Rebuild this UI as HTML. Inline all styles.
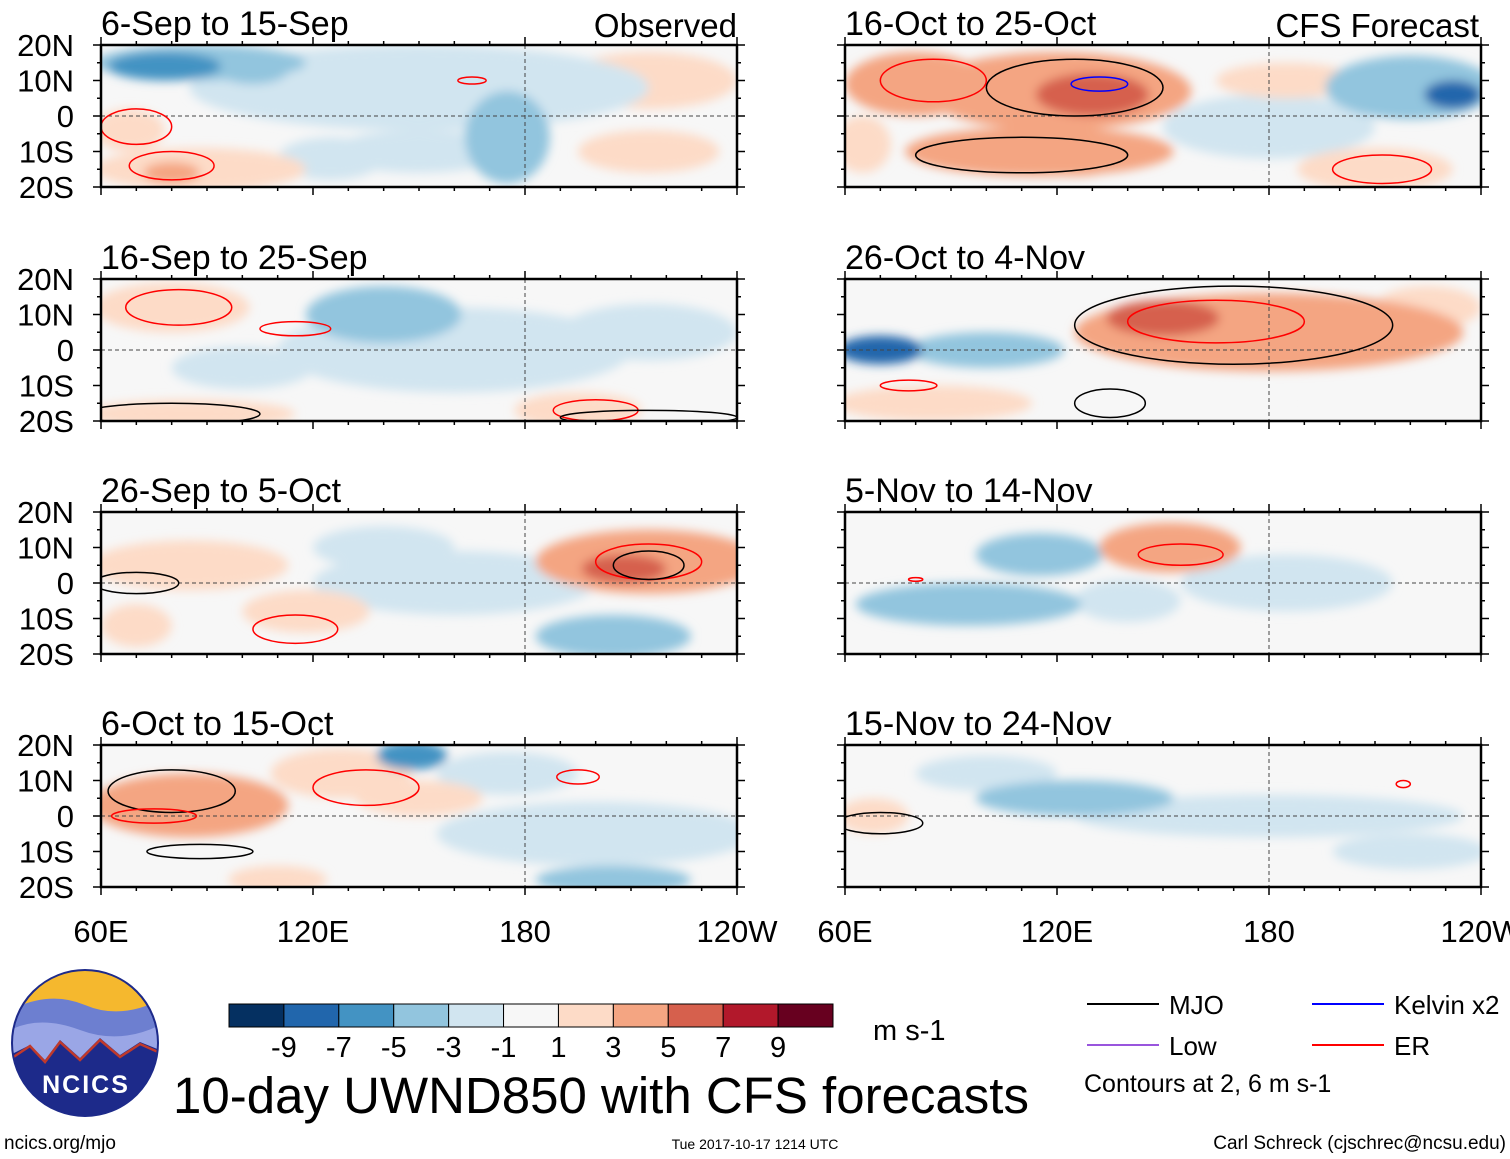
<!DOCTYPE html>
<html><head><meta charset="utf-8"><style>
body{margin:0;background:#fff;}
svg{display:block;font-family:"Liberation Sans",sans-serif;}
</style></head><body>
<svg id="fig" width="1510" height="1159" viewBox="0 0 1510 1159">
<defs>
<filter id="blur" x="-20%" y="-20%" width="140%" height="140%"><feGaussianBlur stdDeviation="5"/></filter>
</defs>
</svg>
<script>
// ---- data ----
const panelTitles=["6-Sep to 15-Sep","16-Oct to 25-Oct","16-Sep to 25-Sep","26-Oct to 4-Nov","26-Sep to 5-Oct","5-Nov to 14-Nov","6-Oct to 15-Oct","15-Nov to 24-Nov"];
const latTicks=["20N","10N","0","10S","20S"];
const lonTicks=["60E","120E","180","120W"];
const cbLevels=[-9,-7,-5,-3,-1,1,3,5,7,9];
const cbColors=["#053061","#2166ac","#4393c3","#92c5de","#d1e5f0","#f7f7f7","#fddbc7","#f4a582","#d6604d","#b2182b","#67001f"];
// anomaly blobs per panel: [lon, lat, value, lonRadius, latRadius]
const blobs=[
 [[150,8,-2,65,12],[175,-6,-3,12,13],[150,-10,-2,25,6],[88,15,-4,30,5],[78,14,-6,16,4],[103,13,-4,10,4],[68,-4,3,10,6],[88,-15,3,30,6],[80,-16,5,8,3],[155,5,1.5,15,5],[215,10,1.5,25,8],[215,-10,1.2,20,6],[125,-12,-2,15,6]],
 [[120,7,4,38,11],[130,6,7,16,6],[80,9,4,20,9],[115,-10,4,38,7],[125,-13,5,12,4],[220,8,-4,24,9],[232,6,-7,8,4],[180,-3,-2,30,9],[185,10,2,20,5],[210,-15,2,22,6],[65,-8,1.5,8,8]],
 [[140,10,-3,22,8],[150,8,-4,8,4],[80,12,3,22,7],[160,0,-1.5,50,12],[85,-18,2,30,4],[195,-17,2,18,5],[100,-5,-1.5,20,6],[215,5,-1.2,25,8]],
 [[180,5,4,55,11],[150,9,6,16,5],[70,0,-8,12,4],[100,0,-3,22,5],[85,-15,1.5,28,5],[160,-15,1,25,4],[225,12,1.5,15,6]],
 [[215,6,4,32,9],[208,4,6,12,4],[160,0,-2,40,9],[205,-15,-4,22,6],[118,-8,3,18,6],[85,5,2,28,7],[140,10,-1.5,20,6],[70,-12,1.5,10,6]],
 [[95,-6,-4,32,6],[115,8,-3,18,6],[152,10,4,20,7],[185,0,-1.5,30,8],[140,-5,-1.2,15,6]],
 [[85,3,4,28,9],[128,12,3,20,7],[148,17,-5,10,4],[200,-5,-2,45,9],[205,-18,-3,22,4],[110,-18,3,14,4],[150,5,1.5,18,5],[175,12,-1.2,20,6]],
 [[125,5,-3,28,5],[180,0,-1.5,55,6],[68,0,2,10,5],[220,-10,-1.2,22,5],[100,12,-1.2,20,5]]
];
// contours per panel: [lon, lat, lonRadius, latRadius, type] type 0=MJO 1=Kelvin 2=ER
const contours=[
 [[70,-3,10,5,2],[80,-14,12,4,2],[165,10,4,1,2]],
 [[85,10,15,6,2],[125,8,25,8,0],[110,-11,30,5,0],[212,-15,14,4,2],[132,9,8,2,1]],
 [[82,12,15,5,2],[115,6,10,2,2],[80,-18,25,3,0],[200,-17,12,3,2],[215,-19,25,2,0]],
 [[170,7,45,11,0],[165,8,25,6,2],[78,-10,8,1.5,2],[135,-15,10,4,0]],
 [[70,0,12,3,0],[215,6,15,5,2],[215,5,10,4,0],[115,-13,12,4,2]],
 [[155,8,12,3,2],[80,1,2,0.5,2]],
 [[80,7,18,6,0],[75,0,12,2,2],[88,-10,15,2,0],[135,8,15,5,2],[195,11,6,2,2]],
 [[70,-2,12,3,0],[218,9,2,1,2]]
];
// ---- drawing ----
const NS="http://www.w3.org/2000/svg";
const svg=document.getElementById('fig');
function mk(tag,attrs,parent){const e=document.createElementNS(NS,tag);for(const k in attrs)e.setAttribute(k,attrs[k]);(parent||svg).appendChild(e);return e;}
function colorFor(v){let i=0;while(i<cbLevels.length&&v>cbLevels[i])i++;return cbColors[i];}
const colX=[101,845],rowY=[45,279,512,745],PW=636,PH=142;
const ctype=["#000","#0000ff","#ff0000"];
for(let p=0;p<8;p++){
 const x0=colX[p%2],y0=rowY[Math.floor(p/2)];
 const xs=lon=>x0+(lon-60)/180*PW, ys=lat=>y0+(20-lat)/40*PH;
 const g=mk('g',{});
 
 
 const cp=mk('clipPath',{id:'cp'+p},g);mk('rect',{x:x0,y:y0,width:PW,height:PH},cp);
 const inner=mk('g',{'clip-path':'url(#cp'+p+')'},g);
 mk('rect',{x:x0,y:y0,width:PW,height:PH,fill:'#f7f7f7'},inner);
 const fg=mk('g',{filter:'url(#blur)'},inner);
 const sorted=blobs[p].slice().sort((a,b)=>Math.abs(a[2])-Math.abs(b[2]));
 sorted.forEach(b=>{
  const e=mk('ellipse',{cx:xs(b[0]),cy:ys(b[1]),rx:b[3]/180*PW,ry:b[4]/40*PH,fill:colorFor(b[2])},fg);
  
  
 });
 mk('line',{x1:x0,y1:ys(0),x2:x0+PW,y2:ys(0),stroke:'#444','stroke-dasharray':'4,3','stroke-width':1},inner);
 mk('line',{x1:xs(180),y1:y0,x2:xs(180),y2:y0+PH,stroke:'#444','stroke-dasharray':'4,3','stroke-width':1},inner);
 contours[p].forEach(c=>{
  const e=mk('ellipse',{cx:xs(c[0]),cy:ys(c[1]),rx:c[2]/180*PW,ry:c[3]/40*PH,fill:'none',stroke:ctype[c[4]],'stroke-width':1.5},inner);
  
  
 });
 mk('rect',{x:x0,y:y0,width:PW,height:PH,fill:'none',stroke:'#000','stroke-width':2.5},g);
 for(let k=0;k<=18;k++){const tx=x0+k*PW/18,l=k%6==0?8:4;mk('line',{x1:tx,y1:y0,x2:tx,y2:y0-l,stroke:'#000','stroke-width':1.5},g);mk('line',{x1:tx,y1:y0+PH,x2:tx,y2:y0+PH+l,stroke:'#000','stroke-width':1.5},g);}
 for(let k=0;k<=8;k++){const ty=y0+k*PH/8,l=k%2==0?8:4;mk('line',{x1:x0,y1:ty,x2:x0-l,y2:ty,stroke:'#000','stroke-width':1.5},g);mk('line',{x1:x0+PW,y1:ty,x2:x0+PW+l,y2:ty,stroke:'#000','stroke-width':1.5},g);}
 const t=mk('text',{x:x0,y:y0-10,'font-size':34},g);t.textContent=panelTitles[p];
 
 if(p%2==0){latTicks.forEach((lt,i)=>{const e=mk('text',{x:74,y:y0+i*PH/4+11,'font-size':31,'text-anchor':'end'});e.textContent=lt;});}
}
const o=mk('text',{x:737,y:37,'font-size':33,'text-anchor':'end'});o.textContent="Observed";
const f=mk('text',{x:1479,y:37,'font-size':33,'text-anchor':'end'});f.textContent="CFS Forecast";
[0,1].forEach(c=>lonTicks.forEach((lt,i)=>{const e=mk('text',{x:colX[c]+i*PW/3,y:942,'font-size':31,'text-anchor':'middle'});e.textContent=lt;}));
const cb=mk('g',{});
const bw=604/11;
cbColors.forEach((c,i)=>mk('rect',{x:229+i*bw,y:1004,width:bw,height:23,fill:c,stroke:'#000','stroke-width':1},cb));
cbLevels.forEach((v,i)=>{const e=mk('text',{x:229+(i+1)*bw,y:1057,'font-size':29,'text-anchor':'middle'},cb);e.textContent=v;});
const u=mk('text',{x:873,y:1040,'font-size':29});u.textContent="m s-1";
const lg=mk('g',{});
[["MJO","#000",1087,1004],["Kelvin x2","#0000ff",1312,1004],["Low","#9955dd",1087,1045],["ER","#ff0000",1312,1045]].forEach(l=>{
 mk('line',{x1:l[2],y1:l[3],x2:l[2]+72,y2:l[3],stroke:l[1],'stroke-width':2},lg);
 const e=mk('text',{x:l[2]+82,y:l[3]+10,'font-size':26},lg);e.textContent=l[0];
});
const ct=mk('text',{x:1084,y:1092,'font-size':25});ct.textContent="Contours at 2, 6 m s-1";
const ti=mk('text',{x:173,y:1113,'font-size':51});ti.textContent="10-day UWND850 with CFS forecasts";
const s1=mk('text',{x:4,y:1149,'font-size':19});s1.textContent="ncics.org/mjo";
const s2=mk('text',{x:755,y:1149,'font-size':14,'text-anchor':'middle'});s2.textContent="Tue 2017-10-17 1214 UTC";
const s3=mk('text',{x:1506,y:1149,'font-size':19,'text-anchor':'end'});s3.textContent="Carl Schreck (cjschrec@ncsu.edu)";
const lo=mk('g',{});
const lcp=mk('clipPath',{id:'logoclip'},lo);mk('circle',{cx:85,cy:1043,r:73},lcp);
const li=mk('g',{'clip-path':'url(#logoclip)'},lo);
mk('rect',{x:10,y:968,width:150,height:150,fill:'#f5b82e'},li);
mk('path',{d:'M10 1010 Q50 990 85 1005 T160 1000 L160 1120 L10 1120Z',fill:'#6d7fd0'},li);
mk('path',{d:'M10 1030 Q40 1015 80 1030 T160 1025 L160 1120 L10 1120Z',fill:'#9aa6e6'},li);
mk('path',{d:'M10 1055 L30 1045 L45 1060 L60 1040 L80 1058 L100 1038 L120 1055 L140 1042 L160 1050 L160 1120 L10 1120Z',fill:'#1d2a8a'},li);
mk('polyline',{points:'12,1058 30,1046 45,1062 60,1042 80,1060 100,1040 120,1057 140,1044 158,1052',fill:'none',stroke:'#c0392b','stroke-width':2.5},li);
mk('circle',{cx:85,cy:1043,r:73,fill:'none',stroke:'#1d2a8a','stroke-width':2},lo);
const nt=mk('text',{x:86,y:1093,'font-size':25,'font-weight':'bold','text-anchor':'middle',fill:'#fff','letter-spacing':2},lo);nt.textContent="NCICS";
</script>
</body></html>
